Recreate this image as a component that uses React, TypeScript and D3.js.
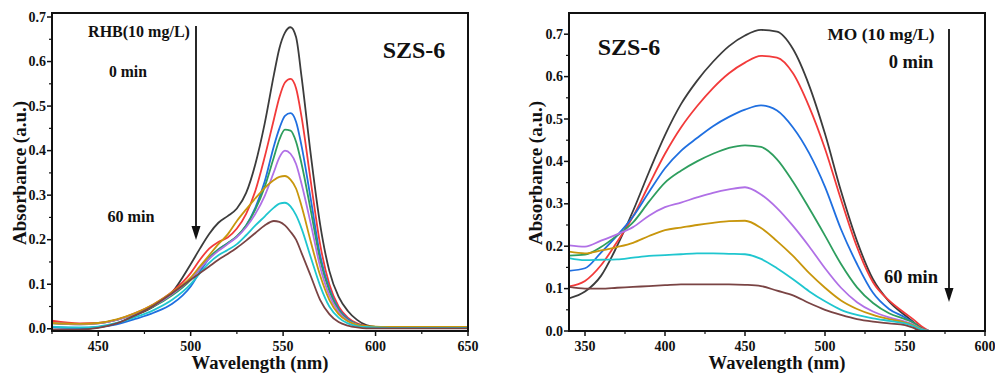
import React from "react";
import * as d3 from "d3";

// ---------- Left panel (RHB) ----------
const rhbWavelength = [425, 440, 450, 460, 470, 480, 490, 500, 505, 510, 515, 520, 525, 530, 535, 540, 545, 548, 551, 554, 557, 560, 565, 570, 575, 580, 585, 590, 595, 600, 610, 650];
const rhb0 = [-0.002, -0.001, 0.003, 0.012, 0.03, 0.05, 0.082, 0.145, 0.18, 0.213, 0.238, 0.253, 0.27, 0.305, 0.37, 0.46, 0.57, 0.63, 0.665, 0.677, 0.655, 0.565, 0.39, 0.235, 0.13, 0.072, 0.04, 0.02, 0.008, 0.004, 0.002, 0.002];
const rhb1 = [0.018, 0.012, 0.013, 0.02, 0.035, 0.055, 0.083, 0.125, 0.155, 0.18, 0.195, 0.205, 0.225, 0.258, 0.31, 0.385, 0.47, 0.52, 0.553, 0.561, 0.54, 0.475, 0.33, 0.19, 0.1, 0.05, 0.025, 0.012, 0.006, 0.003, 0.002, 0.002];
const rhb2 = [0.004, 0.002, 0.004, 0.01, 0.022, 0.036, 0.056, 0.095, 0.128, 0.158, 0.178, 0.192, 0.207, 0.232, 0.272, 0.33, 0.41, 0.45, 0.478, 0.484, 0.465, 0.41, 0.29, 0.165, 0.09, 0.045, 0.022, 0.01, 0.005, 0.003, 0.002, 0.002];
const rhb3 = [0.012, 0.01, 0.012, 0.02, 0.033, 0.05, 0.075, 0.11, 0.135, 0.16, 0.178, 0.192, 0.208, 0.232, 0.268, 0.318, 0.385, 0.425, 0.447, 0.445, 0.42, 0.37, 0.265, 0.155, 0.085, 0.042, 0.02, 0.01, 0.005, 0.003, 0.002, 0.002];
const rhb4 = [0.013, 0.01, 0.012, 0.02, 0.034, 0.052, 0.078, 0.112, 0.135, 0.157, 0.175, 0.19, 0.206, 0.228, 0.258, 0.298, 0.352, 0.385, 0.4, 0.393, 0.37, 0.325, 0.235, 0.14, 0.075, 0.038, 0.018, 0.009, 0.004, 0.003, 0.002, 0.002];
const rhb5 = [0.013, 0.011, 0.013, 0.021, 0.035, 0.055, 0.082, 0.115, 0.14, 0.165, 0.19, 0.212, 0.242, 0.268, 0.293, 0.316, 0.334, 0.341, 0.343, 0.335, 0.315, 0.275, 0.195, 0.12, 0.065, 0.033, 0.017, 0.009, 0.006, 0.005, 0.004, 0.004];
const rhb6 = [0.005, 0.003, 0.005, 0.013, 0.026, 0.042, 0.065, 0.1, 0.125, 0.148, 0.165, 0.177, 0.19, 0.21, 0.232, 0.252, 0.272, 0.281, 0.283, 0.275, 0.255, 0.225, 0.16, 0.097, 0.05, 0.025, 0.012, 0.006, 0.004, 0.003, 0.002, 0.002];
const rhb7 = [-0.002, -0.002, 0.002, 0.012, 0.03, 0.052, 0.08, 0.11, 0.125, 0.14, 0.155, 0.168, 0.182, 0.198, 0.215, 0.232, 0.242, 0.24, 0.232, 0.218, 0.2, 0.17, 0.118, 0.065, 0.033, 0.015, 0.007, 0.003, 0.001, 0.001, 0.001, 0.001];

// ---------- Right panel (MO) ----------
const moWavelength = [340, 350, 360, 370, 380, 390, 400, 410, 420, 430, 440, 450, 460, 470, 480, 490, 500, 510, 520, 530, 540, 550, 555, 560, 565];
const mo0 = [0.077, 0.093, 0.13, 0.2, 0.283, 0.375, 0.462, 0.535, 0.59, 0.635, 0.672, 0.697, 0.71, 0.706, 0.665, 0.58, 0.465, 0.33, 0.212, 0.122, 0.07, 0.037, 0.022, 0.008, 0];
const mo1 = [0.105, 0.118, 0.155, 0.21, 0.27, 0.345, 0.418, 0.48, 0.53, 0.573, 0.608, 0.633, 0.649, 0.645, 0.608, 0.53, 0.43, 0.31, 0.198, 0.115, 0.072, 0.042, 0.028, 0.012, 0];
const mo2 = [0.142, 0.148, 0.185, 0.225, 0.27, 0.328, 0.384, 0.425, 0.455, 0.483, 0.505, 0.522, 0.532, 0.52, 0.48, 0.42, 0.34, 0.24, 0.158, 0.09, 0.052, 0.032, 0.02, 0.006, 0];
const mo3 = [0.178, 0.18, 0.198, 0.225, 0.256, 0.305, 0.35, 0.378, 0.4, 0.418, 0.432, 0.438, 0.434, 0.405, 0.352, 0.29, 0.225, 0.158, 0.103, 0.066, 0.042, 0.028, 0.02, 0.007, 0];
const mo4 = [0.202, 0.199, 0.213, 0.228, 0.245, 0.272, 0.292, 0.303, 0.315, 0.326, 0.334, 0.339, 0.322, 0.29, 0.248, 0.2, 0.148, 0.102, 0.068, 0.046, 0.032, 0.022, 0.016, 0.005, 0];
const mo5 = [0.187, 0.183, 0.19, 0.198, 0.208, 0.224, 0.238, 0.244, 0.25, 0.255, 0.259, 0.26, 0.243, 0.212, 0.177, 0.137, 0.102, 0.072, 0.052, 0.038, 0.028, 0.02, 0.014, 0.004, 0];
const mo6 = [0.172, 0.167, 0.168, 0.169, 0.173, 0.177, 0.179, 0.181, 0.183, 0.183, 0.182, 0.181, 0.17, 0.148, 0.122, 0.094, 0.07, 0.05, 0.038, 0.03, 0.024, 0.018, 0.012, 0.003, 0];
const mo7 = [0.104, 0.1, 0.1, 0.102, 0.104, 0.106, 0.108, 0.11, 0.11, 0.11, 0.11, 0.109, 0.106, 0.095, 0.084, 0.066, 0.05, 0.038, 0.028, 0.022, 0.018, 0.014, 0.008, 0, 0];

const seriesColors = ["#3c3c3c", "#f23a3a", "#1f6fe0", "#2e9e5e", "#b070e6", "#c8960c", "#1fc6cf", "#7a4444"];
const rhbSeries = [rhb0, rhb1, rhb2, rhb3, rhb4, rhb5, rhb6, rhb7];
const moSeries = [mo0, mo1, mo2, mo3, mo4, mo5, mo6, mo7];

const leftXTicks = [450, 500, 550, 600, 650];
const leftYTicks = [0, 0.1, 0.2, 0.3, 0.4, 0.5, 0.6, 0.7];
const rightXTicks = [350, 400, 450, 500, 550, 600];
const rightYTicks = [0, 0.1, 0.2, 0.3, 0.4, 0.5, 0.6, 0.7];

const FONT = "Liberation Serif, Times New Roman, Times, serif";

type PanelProps = {
  x0: number; x1: number; y0: number; y1: number;
  xDomain: [number, number]; yDomain: [number, number];
  xTicks: number[]; yTicks: number[];
  xMinorStep: number; yMinorStep: number;
  wl: number[]; series: number[][];
  yTitleX: number;
};

const txt = (size: number): React.CSSProperties => ({ fontFamily: FONT, fontWeight: 700, fontSize: size });

function Panel(p: PanelProps) {
  const x = d3.scaleLinear().domain(p.xDomain).range([p.x0, p.x1]);
  const y = d3.scaleLinear().domain(p.yDomain).range([p.y1, p.y0]);
  const line = d3.line<[number, number]>()
    .x((d) => x(d[0]))
    .y((d) => y(d[1]))
    .curve(d3.curveMonotoneX);
  const xMinor = d3.range(Math.ceil(p.xDomain[0] / p.xMinorStep) * p.xMinorStep, p.xDomain[1] + 0.001, p.xMinorStep)
    .filter((v) => !p.xTicks.some((t) => Math.abs(t - v) < 1e-6));
  const yMinor = d3.range(0, p.yDomain[1], p.yMinorStep)
    .filter((v) => !p.yTicks.some((t) => Math.abs(t - v) < 1e-6));
  const clipId = `clip-${p.x0}`;
  const cx = (p.x0 + p.x1) / 2;
  const cy = (p.y0 + p.y1) / 2 + 1;
  return (
    <g>
      <defs>
        <clipPath id={clipId}>
          <rect x={p.x0} y={p.y0} width={p.x1 - p.x0} height={p.y1 - p.y0} />
        </clipPath>
      </defs>
      <g clipPath={`url(#${clipId})`}>
        {p.series.map((s, i) => (
          <path
            key={i}
            d={line(p.wl.map((w, j) => [w, s[j]] as [number, number])) || ""}
            fill="none"
            stroke={seriesColors[i]}
            strokeWidth={1.8}
          />
        ))}
      </g>
      <rect x={p.x0} y={p.y0} width={p.x1 - p.x0} height={p.y1 - p.y0} fill="none" stroke="#111" strokeWidth={2} />
      {p.xTicks.map((t) => (
        <g key={`xt${t}`}>
          <line x1={x(t)} x2={x(t)} y1={p.y1} y2={p.y1 + 5} stroke="#111" strokeWidth={1.5} />
          <text x={x(t)} y={p.y1 + 19.5} textAnchor="middle" style={txt(14)} fill="#111">{t}</text>
        </g>
      ))}
      {xMinor.map((t) => (
        <line key={`xm${t}`} x1={x(t)} x2={x(t)} y1={p.y1} y2={p.y1 + 3} stroke="#111" strokeWidth={1.2} />
      ))}
      {p.yTicks.map((t) => (
        <g key={`yt${t}`}>
          <line x1={p.x0 - 5} x2={p.x0} y1={y(t)} y2={y(t)} stroke="#111" strokeWidth={1.5} />
          <text x={p.x0 - 6} y={y(t) + 4.5} textAnchor="end" style={txt(14)} fill="#111">{t.toFixed(1)}</text>
        </g>
      ))}
      {yMinor.map((t) => (
        <line key={`ym${t}`} x1={p.x0 - 3} x2={p.x0} y1={y(t)} y2={y(t)} stroke="#111" strokeWidth={1.2} />
      ))}
      <text x={cx} y={p.y1 + 38} textAnchor="middle" style={txt(18.6)} fill="#111">Wavelength (nm)</text>
      <text transform={`translate(${p.yTitleX},${cy}) rotate(-90)`} textAnchor="middle" style={txt(19)} fill="#111">Absorbance (a.u.)</text>
    </g>
  );
}

function Arrow({ x, y1, y2 }: { x: number; y1: number; y2: number }) {
  return (
    <g>
      <line x1={x} x2={x} y1={y1} y2={y2 - 12} stroke="#111" strokeWidth={1.8} />
      <path d={`M${x - 4.5},${y2 - 14} L${x + 4.5},${y2 - 14} L${x},${y2} Z`} fill="#111" />
    </g>
  );
}

export default function App() {
  return (
    <svg width={995} height={374} style={{ position: "absolute", left: 0, top: 0 }}>
      <rect x={0} y={0} width={995} height={374} fill="#fff" />
      <Panel
        x0={52} x1={468} y0={13} y1={331}
        xDomain={[425, 650]} yDomain={[-0.005, 0.709]}
        xTicks={leftXTicks} yTicks={leftYTicks}
        xMinorStep={25} yMinorStep={0.05}
        wl={rhbWavelength} series={rhbSeries}
        yTitleX={26}
      />
      <Panel
        x0={569} x1={985} y0={13} y1={331}
        xDomain={[340, 600]} yDomain={[0, 0.75]}
        xTicks={rightXTicks} yTicks={rightYTicks}
        xMinorStep={25} yMinorStep={0.05}
        wl={moWavelength} series={moSeries}
        yTitleX={542}
      />
      {/* left annotations */}
      <text x={139} y={36.5} textAnchor="middle" style={txt(16)} fill="#111">RHB(10 mg/L)</text>
      <text x={128} y={76.5} textAnchor="middle" style={txt(15.7)} fill="#111">0 min</text>
      <text x={131} y={221.5} textAnchor="middle" style={txt(16.2)} fill="#111">60 min</text>
      <text x={414} y={57.5} textAnchor="middle" style={txt(24)} fill="#111">SZS-6</text>
      <Arrow x={196} y1={26} y2={240} />
      {/* right annotations */}
      <text x={629} y={55} textAnchor="middle" style={txt(24)} fill="#111">SZS-6</text>
      <text x={881} y={40} textAnchor="middle" style={txt(17.4)} fill="#111">MO (10 mg/L)</text>
      <text x={911} y={68} textAnchor="middle" style={txt(18.5)} fill="#111">0 min</text>
      <text x={911} y={283} textAnchor="middle" style={txt(18.5)} fill="#111">60 min</text>
      <Arrow x={949} y1={29} y2={302} />
    </svg>
  );
}
